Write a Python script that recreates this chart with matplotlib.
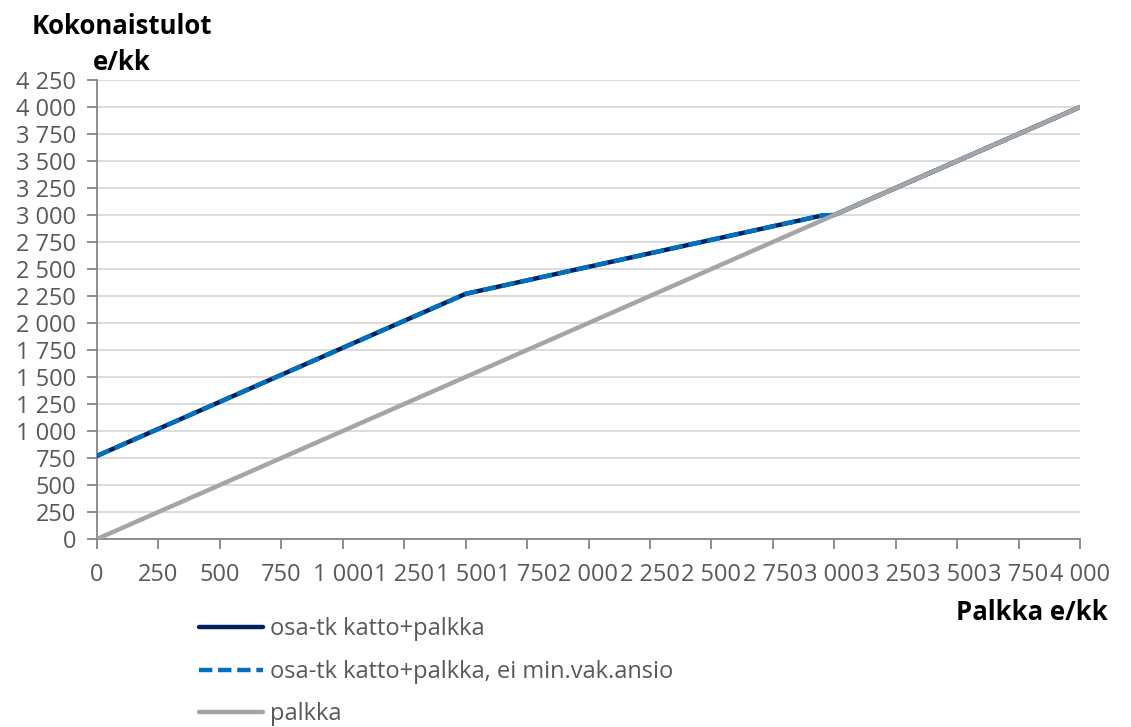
import matplotlib
matplotlib.use("Agg")
import matplotlib.pyplot as plt
from matplotlib.ticker import FuncFormatter, MultipleLocator

# Data
palkka_x = [0, 1500, 2950, 3000, 4000]
osa_tk = [770, 2270, 2995, 3000, 4000]
osa_tk_ei_min = [770, 2270, 2995, 3000, 4000]
palkka_line_x = [0, 4000]
palkka_line_y = [0, 4000]

labels = ["osa-tk katto+palkka", "osa-tk katto+palkka, ei min.vak.ansio", "palkka"]
x_title = "Palkka e/kk"

plt.rcParams['font.family'] = ['Open Sans', 'DejaVu Sans']

fig = plt.figure(figsize=(11.31, 7.27), dpi=100)
ax = fig.add_axes([97/1131, 1-539/727, (1080-97)/1131, (539-80)/727])

l1, = ax.plot(palkka_x, osa_tk, color="#002060", lw=3.2, solid_capstyle="round", zorder=3)
l2, = ax.plot(palkka_x, osa_tk_ei_min, color="#0070C0", lw=3.2, linestyle=(0, (3, 1.3)), zorder=4)
l3, = ax.plot(palkka_line_x, palkka_line_y, color="#A5A5A5", lw=3.2, solid_capstyle="round", zorder=5)

ax.set_xlim(0, 4000)
ax.set_ylim(0, 4250)
ax.xaxis.set_major_locator(MultipleLocator(250))
ax.yaxis.set_major_locator(MultipleLocator(250))
fmt = FuncFormatter(lambda v, p: f"{int(round(v)):,}".replace(",", " "))
ax.xaxis.set_major_formatter(fmt)
ax.yaxis.set_major_formatter(fmt)

ax.grid(axis="y", color="#D9D9D9", lw=1.3, zorder=0)
ax.set_axisbelow(True)
for s in ["top", "right"]:
    ax.spines[s].set_visible(False)
for s in ["left", "bottom"]:
    ax.spines[s].set_color("#868686")
    ax.spines[s].set_linewidth(1.3)
ax.tick_params(axis="both", colors="#868686", labelcolor="#595959", labelsize=17,
               length=7, width=1.3)
ax.tick_params(axis="y", pad=8)
ax.tick_params(axis="x", pad=10)

fig.text(32/1131, 1-27/727, "Kokonaistulot", fontsize=18.5, fontweight="bold", va="center", ha="left")
fig.text(93/1131, 1-63/727, "e/kk", fontsize=18.5, fontweight="bold", va="center", ha="left")
fig.text(1108/1131, 1-612/727, x_title, fontsize=18.5, fontweight="bold", va="center", ha="right")

leg = fig.legend([l1, l2, l3], labels, loc="upper left", bbox_to_anchor=(190/1131, 1-608/727),
                 frameon=False, fontsize=17, handlelength=2.7, handletextpad=0.3,
                 labelspacing=0.78, borderaxespad=0)
for t in leg.get_texts():
    t.set_color("#595959")

fig.savefig("out.png", dpi=100)
